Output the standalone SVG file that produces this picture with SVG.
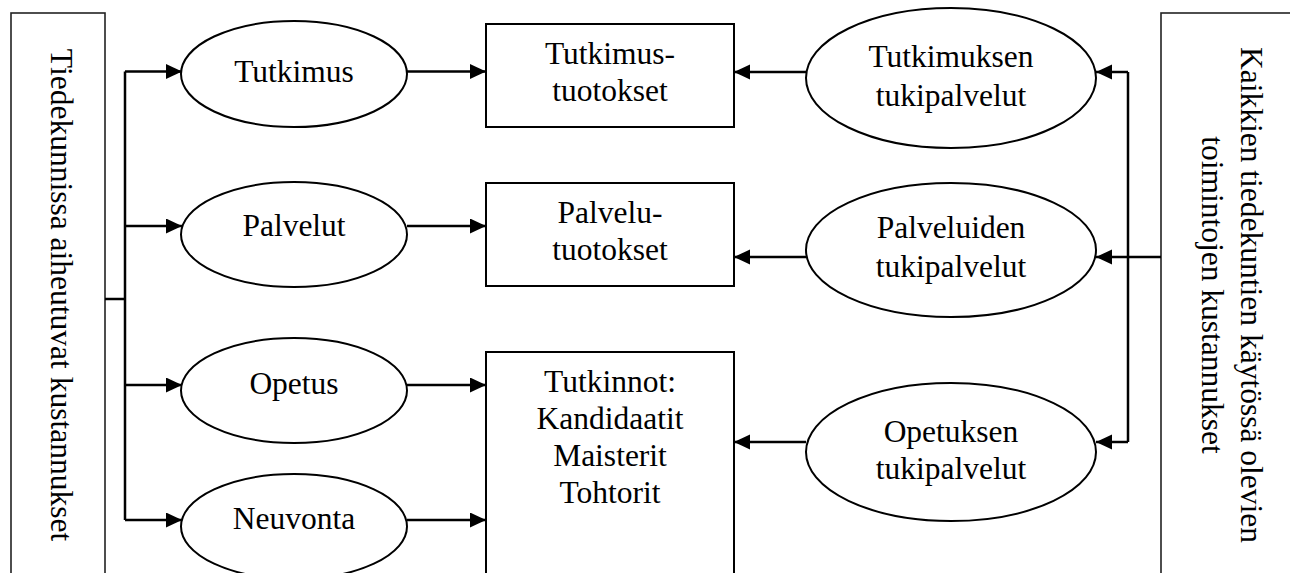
<svg xmlns="http://www.w3.org/2000/svg" width="1290" height="573" viewBox="0 0 1290 573">
<style>
  .box { fill: #fff; stroke: #000; stroke-width: 2; }
  .side { fill: #fff; stroke: #222; stroke-width: 1.6; }
  .el { fill: #fff; stroke: #000; stroke-width: 2; }
  .ln { fill: none; stroke: #000; stroke-width: 2.5; }
  text { font-family: "Liberation Serif", "Times New Roman", serif; font-size: 31.5px; fill: #000; text-anchor: middle; }
</style>
<defs>
  <marker id="ah" markerUnits="userSpaceOnUse" markerWidth="18" markerHeight="16" refX="16" refY="7.5" orient="auto">
    <path d="M0,0 L16,7.5 L0,15 Z" fill="#000"/>
  </marker>
</defs>
<rect width="1290" height="573" fill="#fff"/>

<g id="left-costs">
  <rect class="side" x="11" y="13" width="94" height="580"/>
  <text transform="translate(51,295) rotate(90)">Tiedekunnissa aiheutuvat kustannukset</text>
</g>
<g id="right-costs">
  <rect class="side" x="1161" y="13" width="160" height="580"/>
  <text transform="translate(1241,295) rotate(90)">Kaikkien tiedekuntien käytössä olevien</text>
  <text transform="translate(1202,295) rotate(90)">toimintojen kustannukset</text>
</g>

<g id="tutkimus">
  <ellipse class="el" cx="294" cy="74" rx="113" ry="53"/>
  <text x="294" y="82">Tutkimus</text>
</g>
<g id="palvelut">
  <ellipse class="el" cx="294" cy="234.5" rx="113" ry="52.5"/>
  <text x="294" y="236">Palvelut</text>
</g>
<g id="opetus">
  <ellipse class="el" cx="294" cy="390.5" rx="113" ry="52.5"/>
  <text x="294" y="394">Opetus</text>
</g>
<g id="neuvonta">
  <ellipse class="el" cx="294" cy="526.5" rx="113" ry="52.5"/>
  <text x="294" y="529">Neuvonta</text>
</g>

<g id="tutkimustuotokset">
  <rect class="box" x="486" y="24" width="248" height="103"/>
  <text x="610" y="64">Tutkimus-</text>
  <text x="610" y="101">tuotokset</text>
</g>
<g id="palvelutuotokset">
  <rect class="box" x="486" y="183" width="248" height="103"/>
  <text x="610" y="223">Palvelu-</text>
  <text x="610" y="260">tuotokset</text>
</g>
<g id="tutkinnot">
  <rect class="box" x="486" y="352" width="248" height="260"/>
  <text x="610" y="392">Tutkinnot:</text>
  <text x="610" y="429">Kandidaatit</text>
  <text x="610" y="466">Maisterit</text>
  <text x="610" y="503">Tohtorit</text>
</g>

<g id="tutkimuksen-tuki">
  <ellipse class="el" cx="951" cy="78" rx="145" ry="70"/>
  <text x="951" y="67">Tutkimuksen</text>
  <text x="951" y="106">tukipalvelut</text>
</g>
<g id="palveluiden-tuki">
  <ellipse class="el" cx="951" cy="250" rx="145" ry="67"/>
  <text x="951" y="238">Palveluiden</text>
  <text x="951" y="277">tukipalvelut</text>
</g>
<g id="opetuksen-tuki">
  <ellipse class="el" cx="951" cy="452" rx="145" ry="69"/>
  <text x="951" y="442">Opetuksen</text>
  <text x="951" y="479">tukipalvelut</text>
</g>

<g id="connectors">
  <path class="ln" d="M105,299 H125"/>
  <path class="ln" d="M125,71.5 V520"/>
  <path class="ln" d="M125,71.5 H182" marker-end="url(#ah)"/>
  <path class="ln" d="M125,226 H182" marker-end="url(#ah)"/>
  <path class="ln" d="M125,385 H182" marker-end="url(#ah)"/>
  <path class="ln" d="M125,520 H182" marker-end="url(#ah)"/>

  <path class="ln" d="M407,71.5 H486" marker-end="url(#ah)"/>
  <path class="ln" d="M407,226 H486" marker-end="url(#ah)"/>
  <path class="ln" d="M407,385 H486" marker-end="url(#ah)"/>
  <path class="ln" d="M407,520 H486" marker-end="url(#ah)"/>

  <path class="ln" d="M806,72 H734" marker-end="url(#ah)"/>
  <path class="ln" d="M806,257 H734" marker-end="url(#ah)"/>
  <path class="ln" d="M806,442 H734" marker-end="url(#ah)"/>

  <path class="ln" d="M1128,72 V442"/>
  <path class="ln" d="M1128,72 H1096" marker-end="url(#ah)"/>
  <path class="ln" d="M1128,442 H1096" marker-end="url(#ah)"/>
  <path class="ln" d="M1161,257 H1096" marker-end="url(#ah)"/>
</g>
</svg>
